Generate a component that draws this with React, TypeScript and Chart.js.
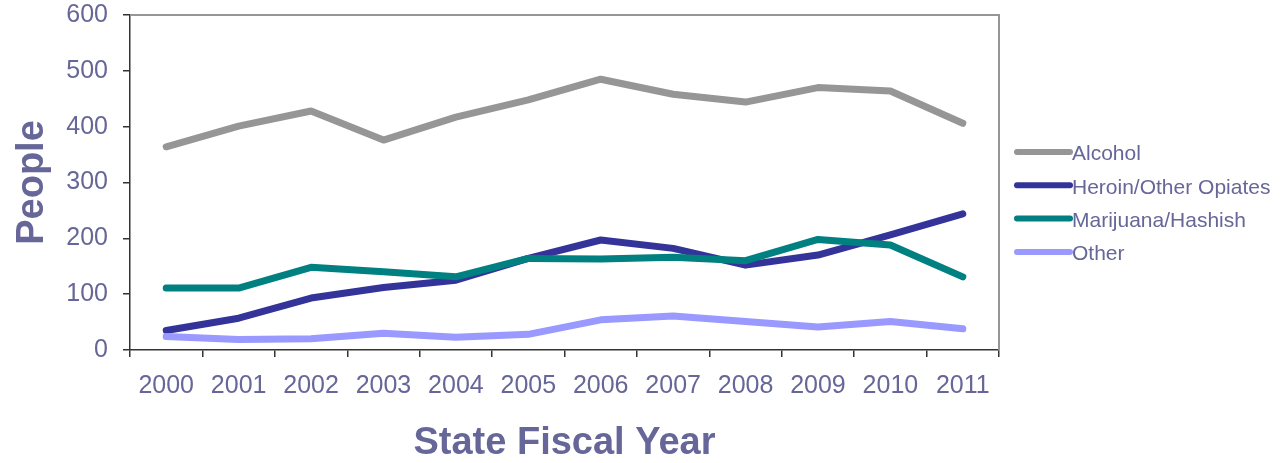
import React, { useEffect, useRef } from "react";
import { Chart, registerables } from "chart.js";

Chart.register(...registerables);

const categories = ["2000", "2001", "2002", "2003", "2004", "2005", "2006", "2007", "2008", "2009", "2010", "2011"];
const alcohol = [364, 401, 428, 376, 417, 448, 485, 458, 444, 470, 464, 406];
const heroin = [35, 57, 93, 112, 125, 164, 197, 182, 152, 170, 206, 244];
const marijuana = [111, 111, 148, 140, 131, 164, 163, 166, 160, 198, 188, 131];
const other = [24, 19, 20, 30, 23, 28, 54, 61, 51, 41, 51, 38];
const seriesNames = ["Alcohol", "Heroin/Other Opiates", "Marijuana/Hashish", "Other"];
const seriesColors = ["#969696", "#333399", "#008080", "#9999FF"];
const yMin = 0;
const yMax = 600;
const yStep = 100;
const xTitle = "State Fiscal Year";
const yTitle = "People";

const TEXT = "#666699";
const FONT = "'Liberation Sans', Arial, Helvetica, sans-serif";

const framePlugin = {
  id: "frame",
  beforeDatasetsDraw(chart: any) {
    const { ctx, chartArea } = chart;
    ctx.save();
    ctx.strokeStyle = "#969696";
    ctx.lineWidth = 2;
    ctx.beginPath();
    ctx.moveTo(chartArea.left, chartArea.top);
    ctx.lineTo(chartArea.right, chartArea.top);
    ctx.lineTo(chartArea.right, chartArea.bottom);
    ctx.stroke();
    ctx.restore();
  },
};

const legendPlugin = {
  id: "sideLegend",
  afterDraw(chart: any) {
    const { ctx, chartArea } = chart;
    const x0 = chartArea.right + 18;
    const lineLen = 53;
    const y0 = 152;
    const gap = 33.3;
    ctx.save();
    chart.data.datasets.forEach((ds: any, i: number) => {
      const y = y0 + i * gap;
      ctx.strokeStyle = ds.borderColor;
      ctx.lineWidth = 6;
      ctx.lineCap = "round";
      ctx.beginPath();
      ctx.moveTo(x0, y);
      ctx.lineTo(x0 + lineLen, y);
      ctx.stroke();
      ctx.fillStyle = TEXT;
      ctx.font = `21px ${FONT}`;
      ctx.textAlign = "left";
      ctx.textBaseline = "middle";
      ctx.fillText(ds.label, x0 + lineLen + 2, y + 2.5);
    });
    ctx.restore();
  },
};

export default function App() {
  const ref = useRef<HTMLCanvasElement | null>(null);

  useEffect(() => {
    if (!ref.current) return;
    Chart.defaults.font.family = FONT;
    const seriesData = [alcohol, heroin, marijuana, other];
    const chart = new Chart(ref.current, {
      type: "line",
      data: {
        labels: categories,
        datasets: seriesData.map((d, i) => ({
          label: seriesNames[i],
          data: d,
          borderColor: seriesColors[i],
          backgroundColor: seriesColors[i],
          borderWidth: 7,
          pointRadius: 0,
          pointHoverRadius: 0,
          tension: 0,
          fill: false,
          borderCapStyle: "round",
          borderJoinStyle: "round",
          order: seriesData.length - i,
        })),
      },
      options: {
        responsive: false,
        animation: false,
        layout: { padding: { top: 0, right: 289, left: 0, bottom: 0 } },
        plugins: {
          legend: { display: false },
          tooltip: { enabled: false },
        },
        scales: {
          x: {
            type: "category",
            offset: true,
            grid: {
              display: true,
              drawOnChartArea: false,
              drawTicks: true,
              tickLength: 7,
              offset: true,
              color: "#333333",
              lineWidth: 1.5,
            },
            border: { display: true, color: "#333333", width: 1.5 },
            ticks: {
              color: TEXT,
              font: { size: 25, family: FONT },
              padding: 14,
              maxRotation: 0,
              autoSkip: false,
            },
            title: {
              display: true,
              text: xTitle,
              color: TEXT,
              font: { size: 38, weight: "bold", family: FONT, lineHeight: 1.05 },
              padding: { top: 0, bottom: 0 },
            },
            afterFit: (s: any) => {
              s.height = 113;
              s.paddingLeft = 0;
              s.paddingRight = 0;
            },
          },
          y: {
            min: yMin,
            max: yMax,
            ticks: {
              stepSize: yStep,
              color: TEXT,
              font: { size: 25, family: FONT },
              padding: 15,
            },
            grid: {
              display: true,
              drawOnChartArea: false,
              drawTicks: true,
              tickLength: 7,
              color: "#333333",
              lineWidth: 1.5,
            },
            border: { display: true, color: "#333333", width: 1.5 },
            title: {
              display: true,
              text: yTitle,
              color: TEXT,
              font: { size: 38, weight: "bold", family: FONT },
              padding: { top: 10, bottom: 0 },
            },
            afterFit: (s: any) => {
              s.width = 130;
              s.paddingTop = 15;
              s.paddingBottom = 0;
            },
          },
        },
      } as any,
      plugins: [framePlugin, legendPlugin],
    });
    return () => chart.destroy();
  }, []);

  return (
    <div style={{ position: "absolute", left: 0, top: 0, width: 1288, height: 463, background: "#fff" }}>
      <canvas ref={ref} width={1288} height={463} style={{ display: "block" }} />
    </div>
  );
}
